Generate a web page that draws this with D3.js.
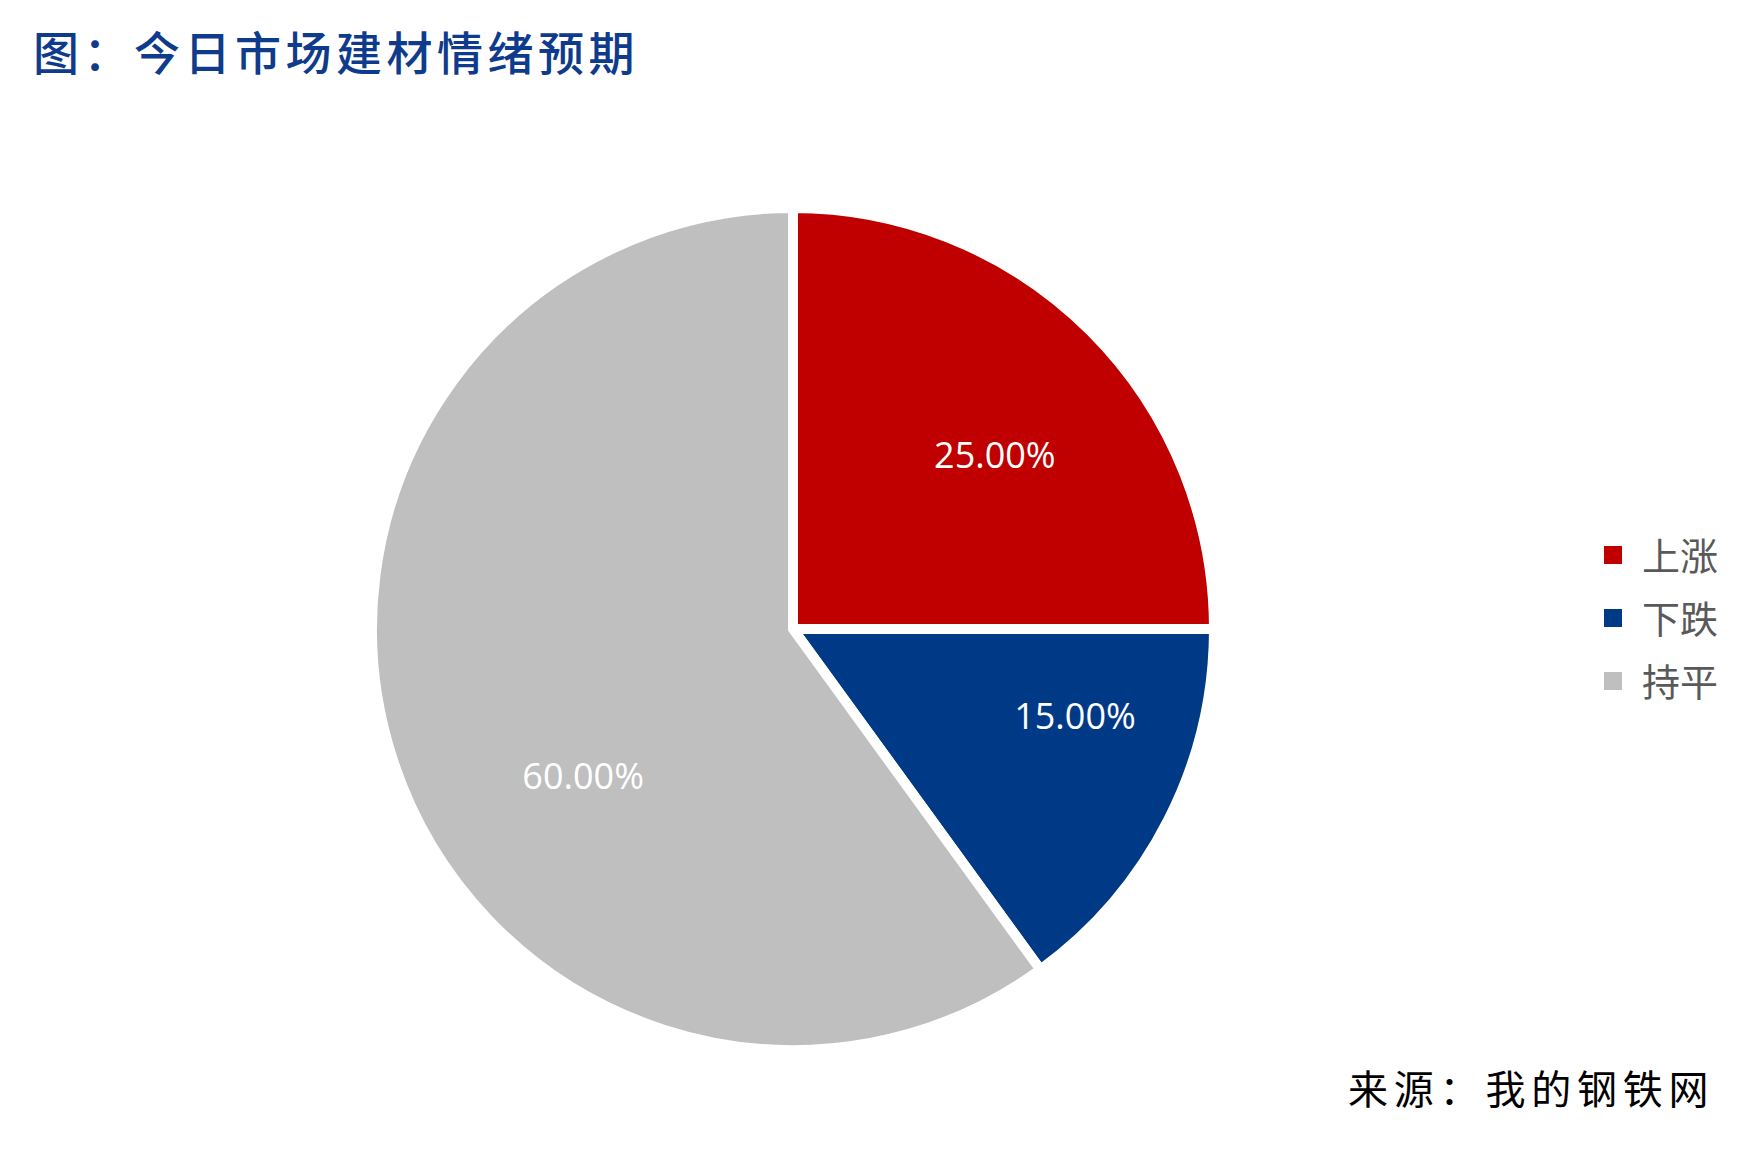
<!DOCTYPE html>
<html>
<head>
<meta charset="utf-8">
<script src="https://cdn.jsdelivr.net/npm/d3@7"></script>
<style>
  html, body { margin: 0; padding: 0; background: #fff; }
  svg { display: block; }
</style>
</head>
<body>
<div id="chart"></div>
<script>
(function() {
  'use strict';

  // chart values
  var titleText = '图：今日市场建材情绪预期';
  var sourceText = '来源：我的钢铁网';
  var categories = ['上涨', '下跌', '持平'];
  var shares = [25, 15, 60];

  var W = 1764, H = 1166;
  var palette = ['#C00000', '#003A87', '#BFBFBF'];
  var cx = 793, cy = 629, R = 421;

  // where each value label sits: fraction through the slice and fraction of radius
  var labelAt = [{ t: 0.547, k: 0.633 }, { t: 0.318, k: 0.701 }, { t: 0.421, k: 0.609 }];

  var rows = categories.map(function(c, i) {
    return { name: c, value: shares[i] };
  });
  var total = d3.sum(shares);

  var svg = d3.select('#chart').append('svg')
    .attr('width', W).attr('height', H);

  svg.append('text')
    .attr('x', 33).attr('y', 70)
    .attr('fill', '#0F3B8C')
    .style('font-family', '"Noto Sans CJK SC", sans-serif')
    .style('font-size', '46px')
    .style('font-weight', 500)
    .style('letter-spacing', '4.5px')
    .text(titleText);

  var color = d3.scaleOrdinal().domain(categories).range(palette);

  var pie = d3.pie().sort(null).value(function(d) { return d.value; });
  var arc = d3.arc().innerRadius(0).outerRadius(R);
  var arcs = pie(rows);

  var g = svg.append('g').attr('transform', 'translate(' + cx + ',' + cy + ')');

  g.selectAll('path').data(arcs).enter().append('path')
    .attr('d', arc)
    .attr('fill', function(d) { return color(d.data.name); })
    .attr('stroke', '#fff')
    .attr('stroke-width', 10)
    .attr('stroke-linejoin', 'miter');

  var fmt = d3.format('.2%');
  g.selectAll('text.value').data(arcs).enter().append('text')
    .attr('class', 'value')
    .attr('transform', function(d, i) {
      var a = d.startAngle + (d.endAngle - d.startAngle) * labelAt[i].t;
      var r = R * labelAt[i].k;
      var p = d3.arc().innerRadius(r).outerRadius(r).startAngle(a).endAngle(a).centroid();
      return 'translate(' + p[0] + ',' + p[1] + ')';
    })
    .attr('text-anchor', 'middle')
    .attr('dy', '0.357em')
    .attr('fill', '#fff')
    .style('font-family', '"Open Sans", sans-serif')
    .style('font-size', '36px')
    .text(function(d) { return fmt(d.data.value / total); });

  // legend
  var ly = d3.scalePoint().domain(categories).range([555, 681]);
  var legend = svg.append('g').selectAll('g').data(categories).enter().append('g')
    .attr('transform', function(d) { return 'translate(1604,' + ly(d) + ')'; });

  legend.append('rect')
    .attr('x', 0).attr('y', -9).attr('width', 18).attr('height', 18)
    .attr('fill', function(d) { return color(d); });

  legend.append('text')
    .attr('x', 38).attr('y', 15)
    .attr('fill', '#595959')
    .style('font-family', '"Noto Sans CJK SC", sans-serif')
    .style('font-size', '38px')
    .text(function(d) { return d; });

  svg.append('text')
    .attr('x', 1348).attr('y', 1104)
    .attr('fill', '#000')
    .style('font-family', '"Noto Sans CJK SC", sans-serif')
    .style('font-size', '40px')
    .style('letter-spacing', '5.8px')
    .text(sourceText);

}).call(this);
</script>
</body>
</html>
